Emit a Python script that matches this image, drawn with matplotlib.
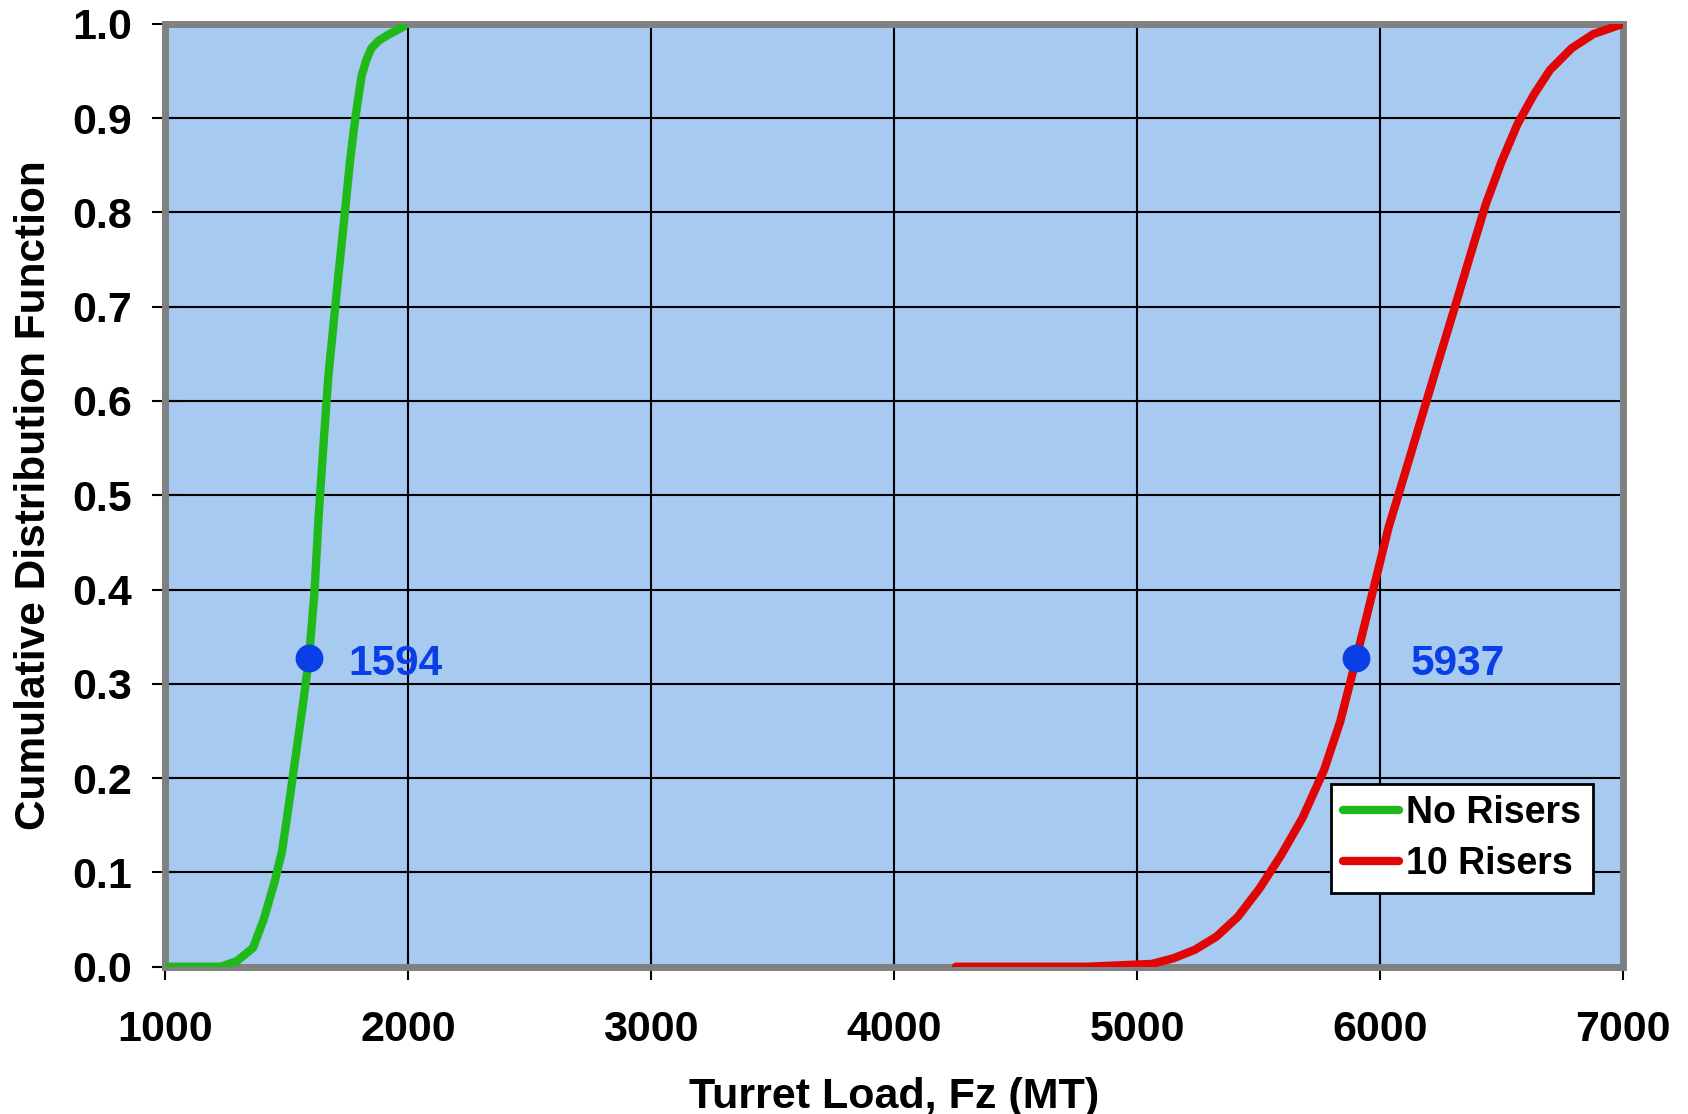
import numpy as np
import matplotlib
matplotlib.use("Agg")
import matplotlib.pyplot as plt

plt.rcParams['font.family'] = ['Liberation Sans', 'DejaVu Sans']
plt.rcParams['font.weight'] = 'bold'

# No Risers CDF
no_risers_x = [1000, 1230, 1297, 1363, 1407, 1451, 1483, 1509, 1540, 1571, 1593, 1616,
               1633, 1651, 1673, 1695, 1717, 1740, 1762, 1784, 1810, 1830, 1850, 1880,
               1917, 1983]
no_risers_p = [0.0, 0.0, 0.006, 0.02, 0.05, 0.089, 0.123, 0.169, 0.226, 0.283, 0.327, 0.397,
               0.477, 0.546, 0.626, 0.683, 0.74, 0.797, 0.854, 0.9, 0.945, 0.962, 0.974, 0.982,
               0.988, 0.997]

# 10 Risers CDF
risers_x = [4255, 4795, 4972, 5061, 5150, 5238, 5327, 5415, 5504, 5592, 5681, 5770, 5836,
            5902, 5969, 6035, 6102, 6168, 6234, 6301, 6367, 6434, 6500, 6566, 6633, 6699,
            6788, 6877, 7000]
risers_p = [0.0, 0.0, 0.002, 0.003, 0.009, 0.018, 0.032, 0.053, 0.083, 0.118, 0.158, 0.209,
            0.26, 0.327, 0.397, 0.466, 0.523, 0.58, 0.637, 0.694, 0.751, 0.808, 0.854, 0.894,
            0.925, 0.951, 0.974, 0.989, 1.0]

# marked points and their labels
mark_x = [1594, 5900]
mark_p = [0.327, 0.327]
mark_text = ['1594', '5937']

fig = plt.figure(figsize=(16.88, 11.14), dpi=100)
ax = fig.add_axes([0.0976, 0.1322, 0.864, 0.8465])
ax.set_facecolor('#a6caf0')

ax.plot(no_risers_x, no_risers_p, color='#1fb91a', lw=6, solid_capstyle='round',
        label='No Risers', zorder=3)
ax.plot(risers_x, risers_p, color='#e00606', lw=6, solid_capstyle='round',
        label='10 Risers', zorder=3)

ax.plot(mark_x, mark_p, 'o', color='#0a3ee6', ms=19, zorder=4)
# label offsets to the right of each marker, in data units
text_dx = [160, 225]
for x, p, t, dx in zip(mark_x, mark_p, mark_text, text_dx):
    ax.text(x + dx, p - 0.006, t, color='#0a3ee6', fontsize=30.5, fontweight='bold',
            va='center', ha='left', zorder=5)

ax.set_xlim(1000, 7000)
ax.set_ylim(0, 1)
ax.set_xticks(np.arange(1000, 7001, 1000))
ax.set_yticks(np.arange(0, 1.01, 0.1))
ax.set_yticklabels([f'{v:.1f}' for v in np.arange(0, 1.01, 0.1)])
ax.grid(True, color='black', lw=1.5, zorder=1)
ax.set_axisbelow(True)

ax.tick_params(direction='inout', length=19, width=1.5, labelsize=31, pad=14)
ax.tick_params(axis='x', pad=22)
for lab in ax.get_xticklabels() + ax.get_yticklabels():
    lab.set_fontweight('bold')

for s in ax.spines.values():
    s.set_color('#808080')
    s.set_linewidth(5)
ax.axvline(1000, color='black', lw=2, zorder=2)
ax.axhline(0, color='black', lw=2, zorder=2)

ax.set_xlabel('Turret Load, Fz (MT)', fontsize=31, fontweight='bold', labelpad=19)
ax.set_ylabel('Cumulative Distribution Function', fontsize=30.5, fontweight='bold', labelpad=13)

leg = ax.legend(loc='lower right', bbox_to_anchor=(0.979, 0.078), fontsize=27,
                fancybox=False, framealpha=1, edgecolor='black', handlelength=1.5,
                handletextpad=0.2, borderpad=0.3, labelspacing=0.4, borderaxespad=0)
leg.get_frame().set_linewidth(2)
for t in leg.get_texts():
    t.set_fontweight('bold')

fig.savefig('out.png', dpi=100)
